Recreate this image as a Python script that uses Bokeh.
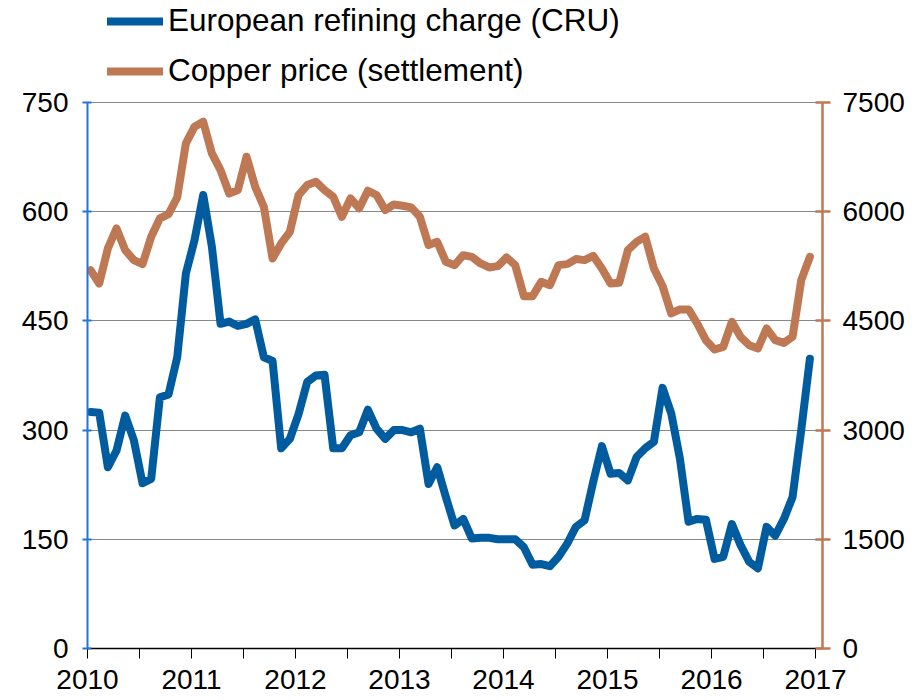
from bokeh.plotting import figure
from bokeh.models import (LinearAxis, Range1d, FixedTicker, CustomJSTickFormatter,
                          Legend, LegendItem, ColumnDataSource)
from bokeh.embed import file_html
from bokeh.resources import INLINE

# ---- data (monthly, Jan 2010 .. Dec 2016) ----
years = [2010, 2011, 2012, 2013, 2014, 2015, 2016, 2017]
refining_charge = [
    325, 324, 249, 272, 320, 286, 227, 233, 345, 349, 400, 515,   # 2010
    561, 623, 552, 446, 449, 443, 446, 452, 400, 395, 275, 288,   # 2011
    322, 366, 375, 376, 275, 275, 293, 297, 328, 302, 288, 300,   # 2012
    300, 297, 302, 226, 249, 208, 169, 178, 151, 152, 152, 150,   # 2013
    150, 150, 139, 115, 116, 113, 126, 144, 167, 176, 229, 278,   # 2014
    240, 241, 231, 263, 275, 284, 358, 323, 261, 174, 178, 177,   # 2015
    123, 126, 171, 142, 119, 110, 167, 155, 178, 208, 300, 398,   # 2016
]
copper_price = [
    5197, 5014, 5495, 5770, 5472, 5335, 5280, 5655, 5908, 5967, 6197, 6939,  # 2010
    7168, 7236, 6801, 6572, 6250, 6297, 6755, 6342, 6067, 5358, 5564, 5724,  # 2011
    6229, 6366, 6412, 6297, 6205, 5930, 6183, 6046, 6288, 6229, 6022, 6100,  # 2012
    6082, 6060, 5930, 5541, 5586, 5311, 5266, 5403, 5380, 5289, 5234, 5252,  # 2013
    5372, 5266, 4840, 4840, 5037, 4991, 5266, 5280, 5349, 5335, 5394, 5220,  # 2014
    5014, 5023, 5472, 5586, 5655, 5220, 4980, 4602, 4657, 4657, 4464, 4235,  # 2015
    4107, 4143, 4487, 4281, 4166, 4121, 4396, 4235, 4198, 4281, 5060, 5380,  # 2016
]
left_ticks = [0, 150, 300, 450, 600, 750]
right_ticks = [0, 1500, 3000, 4500, 6000, 7500]
series_names = ["European refining charge (CRU)", "Copper price (settlement)"]

# month positions as fractional years
t = [years[0] + (i + 0.35) / 12 for i in range(len(refining_charge))]
src = ColumnDataSource(dict(t=t, rc=refining_charge, cu=copper_price))

BLUE = "#005C9E"
COPPER = "#BE7853"
AXIS_BLUE = "#2277D6"
FONT = "Liberation Sans"

W, H = 914, 700
FRAME_TOP_PAD = 102          # px between canvas top and the 750 line (room for legend)
FRAME_H = 648                # canvas y of the zero line
left_max = left_ticks[-1]
left_top = left_max * FRAME_H / (FRAME_H - FRAME_TOP_PAD)
right_top = right_ticks[-1] * FRAME_H / (FRAME_H - FRAME_TOP_PAD)

p = figure(width=W, height=H, output_backend="svg", toolbar_location=None,
           x_range=Range1d(2010, 2017.067), y_range=Range1d(0, left_top),
           min_border_left=87, min_border_right=92, min_border_top=0,
           min_border_bottom=H - FRAME_H)
p.outline_line_color = None
p.background_fill_color = "white"
p.border_fill_color = "white"
p.extra_y_ranges = {"right": Range1d(0, right_top)}

# grid
p.xgrid.visible = False
p.ygrid.ticker = FixedTicker(ticks=left_ticks[1:])
p.ygrid.grid_line_color = "#111111"
p.ygrid.grid_line_dash = "1 1"
p.ygrid.grid_line_width = 1

# x axis
xa = p.xaxis[0]
xa.ticker = FixedTicker(ticks=[years[0] + k * 0.5 for k in range(15)])
xa.formatter = CustomJSTickFormatter(code="return (Math.abs(tick - Math.round(tick)) < 1e-6) ? Math.round(tick).toString() : '';")
xa.axis_line_color = "black"
xa.axis_line_width = 1.5
xa.major_tick_line_color = "black"
xa.major_tick_line_width = 1
xa.major_tick_in = 0
xa.major_tick_out = 10
xa.minor_tick_line_color = None
xa.major_label_text_font = FONT
xa.major_label_text_font_size = "28px"
xa.major_label_text_color = "black"
xa.major_label_standoff = 11

# left axis
ya = p.yaxis[0]
ya.ticker = FixedTicker(ticks=left_ticks)
ya.bounds = (0, left_max)
ya.axis_line_color = AXIS_BLUE
ya.axis_line_width = 2
ya.major_tick_line_color = AXIS_BLUE
ya.major_tick_line_width = 2
ya.major_tick_in = 4
ya.major_tick_out = 5
ya.minor_tick_line_color = None
ya.major_label_text_font = FONT
ya.major_label_text_font_size = "28px"
ya.major_label_text_color = "black"
ya.major_label_standoff = 14

# right axis
ra = LinearAxis(y_range_name="right", ticker=FixedTicker(ticks=right_ticks),
                bounds=(0, right_ticks[-1]))
ra.axis_line_color = COPPER
ra.axis_line_width = 2.5
ra.major_tick_line_color = COPPER
ra.major_tick_line_width = 2.5
ra.major_tick_in = 7
ra.major_tick_out = 8
ra.minor_tick_line_color = None
ra.major_label_text_font = FONT
ra.major_label_text_font_size = "28px"
ra.major_label_text_color = "black"
ra.major_label_standoff = 12
p.add_layout(ra, "right")

# lines
r_cu = p.line("t", "cu", source=src, y_range_name="right", line_color=COPPER,
              line_width=8, line_join="round", line_cap="round")
r_rc = p.line("t", "rc", source=src, line_color=BLUE, line_width=8,
              line_join="round", line_cap="round")

legend = Legend(items=[LegendItem(label=series_names[0], renderers=[r_rc]),
                       LegendItem(label=series_names[1], renderers=[r_cu])],
                location=(12, FRAME_H - 97), orientation="vertical",
                glyph_width=56, glyph_height=34, spacing=13,
                label_standoff=5, padding=8, margin=0,
                label_text_font=FONT, label_text_font_size="31.5px",
                label_text_color="black", label_text_baseline="middle",
                background_fill_alpha=0, border_line_alpha=0)
p.add_layout(legend, "center")

open("out.html", "w").write(file_html(p, INLINE))
